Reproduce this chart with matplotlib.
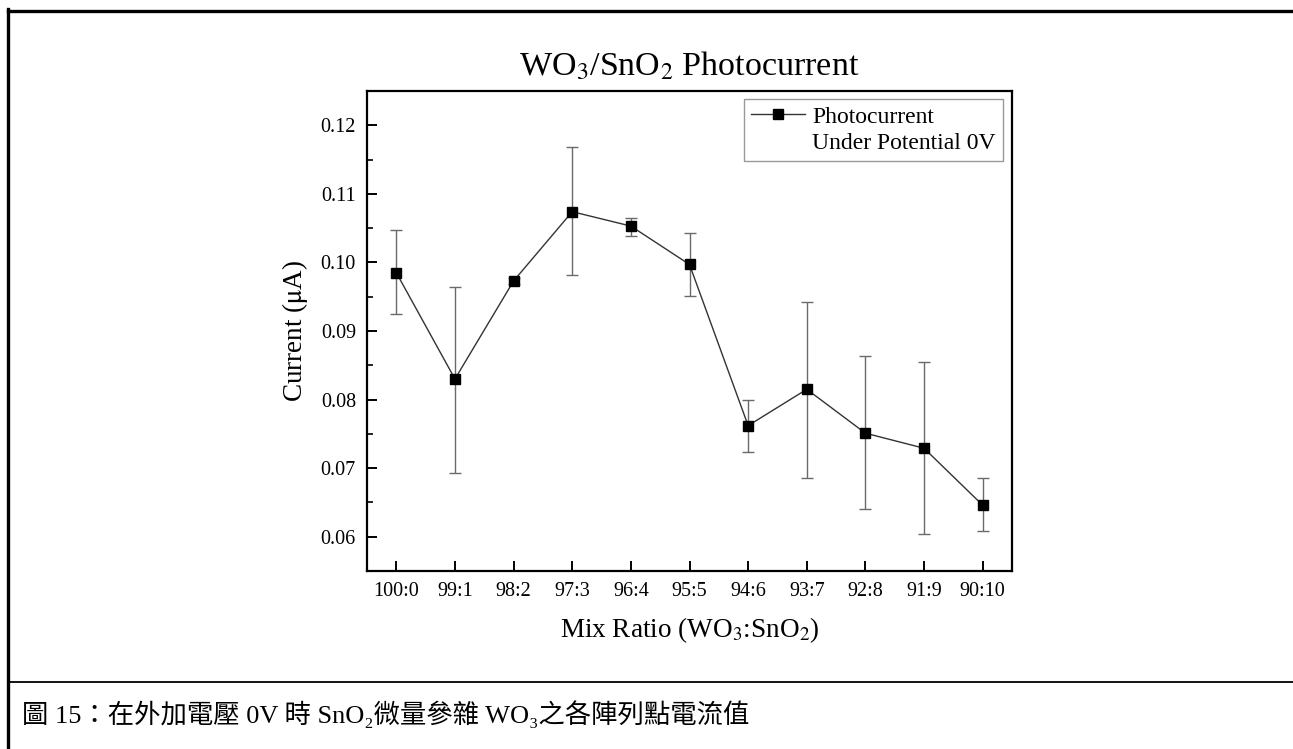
import matplotlib
matplotlib.use("Agg")
import matplotlib.pyplot as plt
from matplotlib.lines import Line2D
import numpy as np

# Mix ratio (WO3:SnO2) and measured photocurrent (µA) at 0 V bias
ratios = ["100:0", "99:1", "98:2", "97:3", "96:4", "95:5",
          "94:6", "93:7", "92:8", "91:9", "90:10"]
current = [0.0985, 0.0830, 0.0973, 0.1074, 0.1053, 0.0997,
           0.0762, 0.0815, 0.0751, 0.0729, 0.0646]
err_low = [0.0060, 0.0137, 0.0004, 0.0093, 0.0014, 0.0046,
           0.0038, 0.0129, 0.0111, 0.0125, 0.0038]
err_high = [0.0062, 0.0134, 0.0004, 0.0095, 0.0012, 0.0046,
            0.0038, 0.0128, 0.0112, 0.0126, 0.0039]
yticks = [0.06, 0.07, 0.08, 0.09, 0.10, 0.11, 0.12]

plt.rcParams["font.family"] = ["Liberation Serif", "DejaVu Serif"]
plt.rcParams["mathtext.fontset"] = "stix"

W, H = 1293, 749
fig = plt.figure(figsize=(W / 100, H / 100), dpi=100)
fig.patch.set_facecolor("white")

# page frame: thick top and left rules, thin rule above the caption
fig.add_artist(Line2D([8 / W, 1.0], [1 - 10.5 / H, 1 - 10.5 / H],
                      color="black", lw=2.4, transform=fig.transFigure))
fig.add_artist(Line2D([8 / W, 8 / W], [0.0, 1 - 9 / H],
                      color="black", lw=2.4, transform=fig.transFigure))
fig.add_artist(Line2D([8 / W, 1.0], [1 - 682 / H, 1 - 682 / H],
                      color="black", lw=1.3, transform=fig.transFigure))

ax = fig.add_axes([367 / W, 1 - 571 / H, (1012 - 367) / W, (571 - 91) / H])

x = np.arange(len(ratios))
ax.errorbar(x, current, yerr=[err_low, err_high], fmt="none",
            ecolor="#6a6a6a", elinewidth=1.0, capsize=4.5, capthick=1.0,
            zorder=2)
ax.plot(x, current, color="#333333", lw=1.0, marker="s", markersize=7,
        markerfacecolor="black", markeredgecolor="black", zorder=3)

ax.set_xlim(-0.5, len(ratios) - 0.5)
ax.set_ylim(0.055, 0.125)
ax.set_xticks(x)
ax.set_xticklabels(ratios)
ax.set_yticks(yticks)
ax.set_yticklabels([f"{v:.2f}" for v in yticks])
ax.set_yticks(np.arange(0.055, 0.1251, 0.01), minor=True)

for s in ax.spines.values():
    s.set_linewidth(1.6)
ax.tick_params(axis="both", which="major", direction="in", length=7,
               width=1.4, labelsize=14.5, pad=8)
ax.tick_params(axis="y", which="minor", direction="in", length=4.5,
               width=1.2)
ax.tick_params(top=False, right=False, which="both")

ax.set_xlabel(r"Mix Ratio (WO$_3$:SnO$_2$)", fontsize=19.5)
ax.set_ylabel(r"Current ($\mathrm{\mu}$A)", fontsize=19.5)
ax.yaxis.set_label_coords(-0.088, 0.5)
ax.xaxis.set_label_coords(0.5, -0.092)

fig.text(689.5 / W, 1 - 66 / H, r"WO$_3$/SnO$_2$ Photocurrent",
         fontsize=24.5, ha="center", va="center")

# legend: marker line on first row, second row carries the rest of the label
h1 = Line2D([], [], color="#333333", lw=1.0, marker="s", markersize=7,
            markerfacecolor="black", markeredgecolor="black")
h2 = Line2D([], [], color="none", lw=0)
leg = ax.legend([h1, h2], ["Photocurrent", "Under Potential 0V"],
                loc="upper right", bbox_to_anchor=(1 - 9 / 645, 1 - 8 / 480),
                borderaxespad=0, fontsize=17, frameon=True, fancybox=False,
                handlelength=2.3, handletextpad=0.3, labelspacing=0.2,
                borderpad=0.3, edgecolor="#808080")
leg.get_frame().set_linewidth(1.0)

fig.text(22 / W, 1 - 714 / H,
         "圖 15：在外加電壓 0V 時 SnO₂微量參雜 WO₃之各陣列點電流值",
         fontsize=19, ha="left", va="center",
         family=["Liberation Serif", "Noto Sans CJK TC", "DejaVu Sans"])

fig.savefig("out.png", dpi=100)
